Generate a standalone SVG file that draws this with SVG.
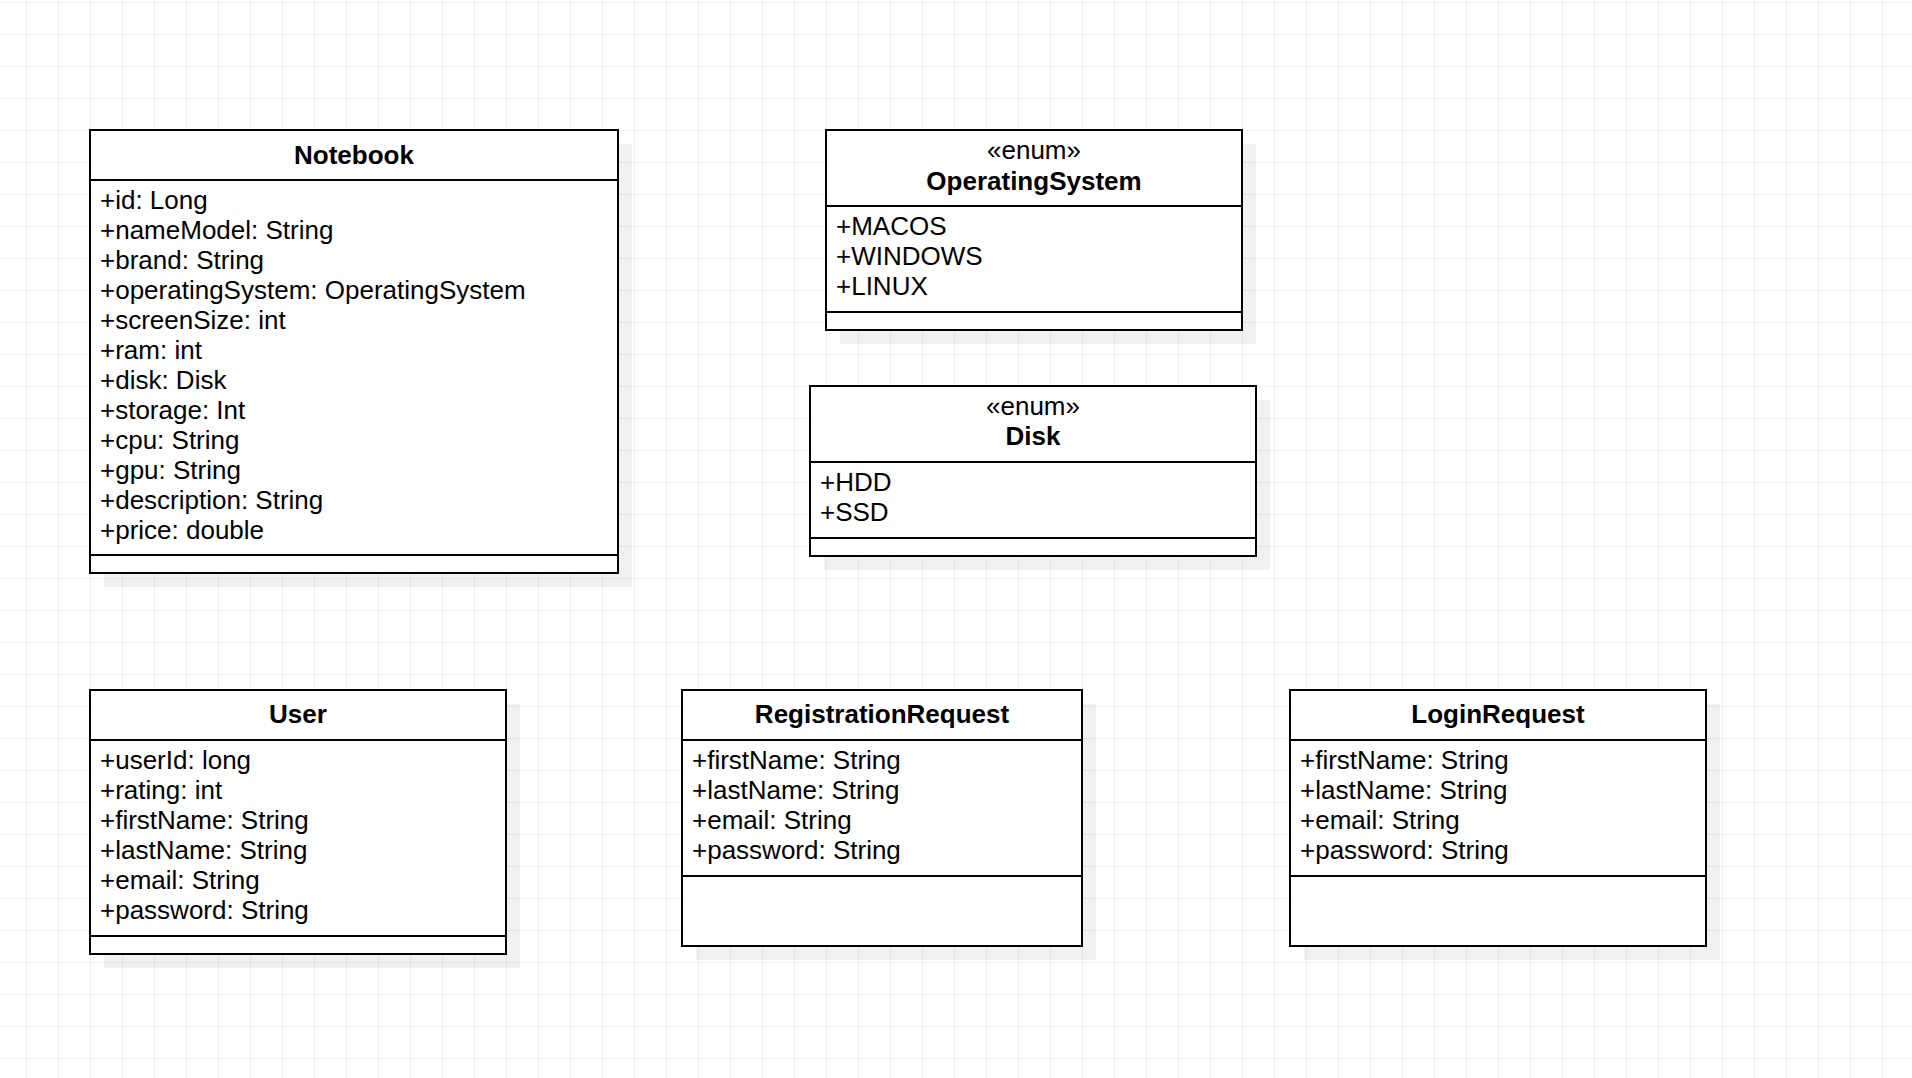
<svg xmlns="http://www.w3.org/2000/svg" width="1912" height="1078" viewBox="0 0 1912 1078">
  <defs>
    <pattern id="grid" width="32" height="32" patternUnits="userSpaceOnUse" x="26" y="2">
      <path d="M0 0.5H32M0.5 0V32" fill="none" stroke="#efefef" stroke-width="1"/>
    </pattern>
  </defs>
  <style>
    .box { fill: #ffffff; stroke: #000000; stroke-width: 2; }
    .shadow { fill: #000000; fill-opacity: 0.055; stroke: none; }
    .sep { stroke: #000000; stroke-width: 2; fill: none; }
    text { font-family: "Liberation Sans", Arial, sans-serif; font-size: 26px; fill: #000000; }
    .title { font-weight: bold; text-anchor: middle; }
    .stereo { text-anchor: middle; }
  </style>
  <rect x="0" y="0" width="1912" height="1078" fill="#ffffff"/>
  <rect x="0" y="0" width="1912" height="1078" fill="url(#grid)"/>

  <g id="connectors"/>

  <g id="Notebook">
    <rect class="shadow" x="104" y="144" width="528" height="443"/>
    <rect class="box" x="90" y="130" width="528" height="443"/>
    <line class="sep" x1="90" y1="180" x2="618" y2="180"/>
    <line class="sep" x1="90" y1="555" x2="618" y2="555"/>
    <text class="title" x="354" y="164">Notebook</text>
    <text x="100" y="209">+id: Long</text>
    <text x="100" y="239">+nameModel: String</text>
    <text x="100" y="269">+brand: String</text>
    <text x="100" y="299">+operatingSystem: OperatingSystem</text>
    <text x="100" y="329">+screenSize: int</text>
    <text x="100" y="359">+ram: int</text>
    <text x="100" y="389">+disk: Disk</text>
    <text x="100" y="419">+storage: Int</text>
    <text x="100" y="449">+cpu: String</text>
    <text x="100" y="479">+gpu: String</text>
    <text x="100" y="509">+description: String</text>
    <text x="100" y="539">+price: double</text>
  </g>

  <g id="OperatingSystem">
    <rect class="shadow" x="840" y="144" width="416" height="200"/>
    <rect class="box" x="826" y="130" width="416" height="200"/>
    <line class="sep" x1="826" y1="206" x2="1242" y2="206"/>
    <line class="sep" x1="826" y1="312" x2="1242" y2="312"/>
    <text class="stereo" x="1034" y="158.5">«enum»</text>
    <text class="title" x="1034" y="189.5">OperatingSystem</text>
    <text x="836" y="234.5">+MACOS</text>
    <text x="836" y="264.5">+WINDOWS</text>
    <text x="836" y="294.5">+LINUX</text>
  </g>

  <g id="Disk">
    <rect class="shadow" x="824" y="400" width="446" height="170"/>
    <rect class="box" x="810" y="386" width="446" height="170"/>
    <line class="sep" x1="810" y1="462" x2="1256" y2="462"/>
    <line class="sep" x1="810" y1="538" x2="1256" y2="538"/>
    <text class="stereo" x="1033" y="414.5">«enum»</text>
    <text class="title" x="1033" y="444.5">Disk</text>
    <text x="820" y="490.5">+HDD</text>
    <text x="820" y="520.5">+SSD</text>
  </g>

  <g id="User">
    <rect class="shadow" x="104" y="704" width="416" height="264"/>
    <rect class="box" x="90" y="690" width="416" height="264"/>
    <line class="sep" x1="90" y1="740" x2="506" y2="740"/>
    <line class="sep" x1="90" y1="936" x2="506" y2="936"/>
    <text class="title" x="298" y="723">User</text>
    <text x="100" y="769">+userId: long</text>
    <text x="100" y="799">+rating: int</text>
    <text x="100" y="829">+firstName: String</text>
    <text x="100" y="859">+lastName: String</text>
    <text x="100" y="889">+email: String</text>
    <text x="100" y="919">+password: String</text>
  </g>

  <g id="RegistrationRequest">
    <rect class="shadow" x="696" y="704" width="400" height="256"/>
    <rect class="box" x="682" y="690" width="400" height="256"/>
    <line class="sep" x1="682" y1="740" x2="1082" y2="740"/>
    <line class="sep" x1="682" y1="876" x2="1082" y2="876"/>
    <text class="title" x="882" y="723">RegistrationRequest</text>
    <text x="692" y="769">+firstName: String</text>
    <text x="692" y="799">+lastName: String</text>
    <text x="692" y="829">+email: String</text>
    <text x="692" y="859">+password: String</text>
  </g>

  <g id="LoginRequest">
    <rect class="shadow" x="1304" y="704" width="416" height="256"/>
    <rect class="box" x="1290" y="690" width="416" height="256"/>
    <line class="sep" x1="1290" y1="740" x2="1706" y2="740"/>
    <line class="sep" x1="1290" y1="876" x2="1706" y2="876"/>
    <text class="title" x="1498" y="723">LoginRequest</text>
    <text x="1300" y="769">+firstName: String</text>
    <text x="1300" y="799">+lastName: String</text>
    <text x="1300" y="829">+email: String</text>
    <text x="1300" y="859">+password: String</text>
  </g>
</svg>
